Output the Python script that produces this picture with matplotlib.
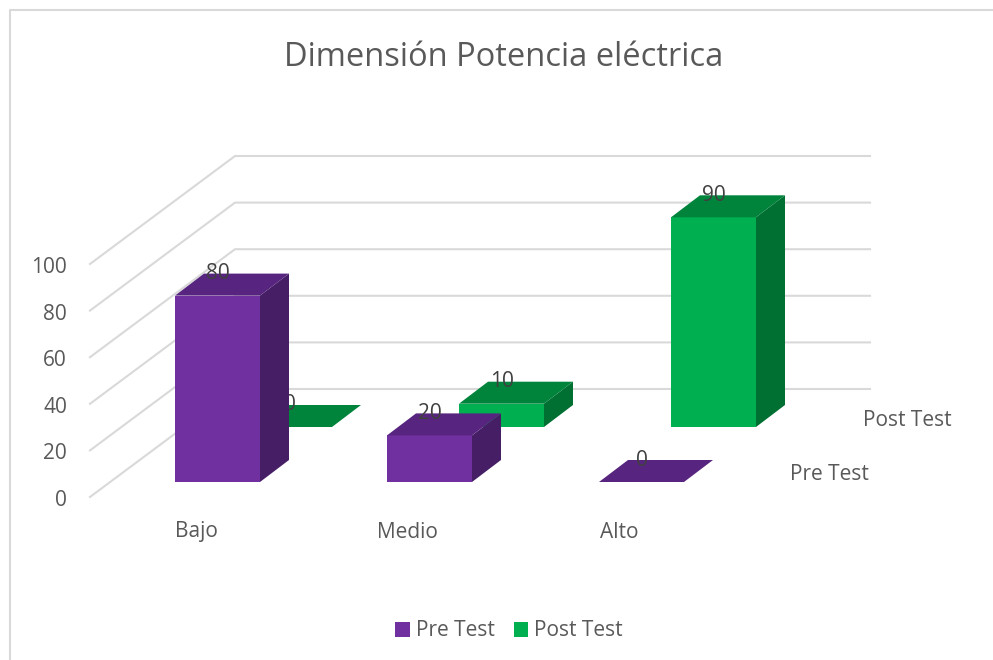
import matplotlib
matplotlib.use('Agg')
import matplotlib.pyplot as plt
from matplotlib.patches import Polygon, Patch

plt.rcParams['font.family'] = ['Open Sans', 'DejaVu Sans']

# Data
categories = ['Bajo', 'Medio', 'Alto']
series_names = ['Pre Test', 'Post Test']
pre_test = [80, 20, 0]
post_test = [0, 10, 90]
value_ticks = [0, 20, 40, 60, 80, 100]

# Colours: front, top, side
pre_colors = ('#7030A0', '#57257F', '#461E66')
post_colors = ('#00B050', '#00843C', '#006F32')
grid_color = '#D9D9D9'
text_color = '#595959'
label_color = '#404040'

# Oblique projection of the Excel style 3D chart, in pixels
x0, y0 = 175, 482
cat_step = 212
bar_w = 85
series_dx, series_dy = 72, -55
depth_dx, depth_dy = 29, -22
px_per_unit = 2.33


def draw_bar(ax, cat, ser, value, colors, z):
    left = x0 + cat * cat_step + ser * series_dx
    right = left + bar_w
    bottom = y0 + ser * series_dy
    top = bottom - value * px_per_unit
    front = [(left, bottom), (right, bottom), (right, top), (left, top)]
    lid = [(left, top), (right, top), (right + depth_dx, top + depth_dy), (left + depth_dx, top + depth_dy)]
    side = [(right, bottom), (right + depth_dx, bottom + depth_dy), (right + depth_dx, top + depth_dy), (right, top)]
    ax.add_patch(Polygon(side, closed=True, fc=colors[2], ec='none', zorder=z))
    ax.add_patch(Polygon(front, closed=True, fc=colors[0], ec='none', zorder=z))
    ax.add_patch(Polygon(lid, closed=True, fc=colors[1], ec='none', zorder=z))
    ax.text(left + bar_w / 2, top - 22, str(value), ha='center', va='center',
            fontsize=15, color=label_color, zorder=z + 0.5)


fig = plt.figure(figsize=(9.93, 6.60), dpi=100)
ax = fig.add_axes([0, 0, 1, 1])
ax.set_xlim(0, 993)
ax.set_ylim(660, 0)
ax.axis('off')

# Chart frame
ax.plot([10, 10, 993], [660, 10, 10], color='#D9D9D9', lw=1.5, zorder=1)

# Walls and value labels
for v in value_ticks:
    y_front = 497 - v * px_per_unit
    y_back = 389 - v * px_per_unit
    ax.plot([90, 235, 870], [y_front, y_back, y_back], color=grid_color, lw=1.5, zorder=2)
    ax.text(67, y_front + 3.5, str(v), ha='right', va='center', fontsize=15, color=text_color)

# Back row first so the front row covers it
for i, v in enumerate(post_test):
    draw_bar(ax, i, 1, v, post_colors, 3 + i * 0.01)
for i, v in enumerate(pre_test):
    draw_bar(ax, i, 0, v, pre_colors, 4 + i * 0.01)

# Category and series axis labels
for name, x in zip(categories, [175, 377, 600]):
    ax.text(x, 532, name, ha='left', va='center', fontsize=15, color=text_color)
ax.text(790, 475, series_names[0], ha='left', va='center', fontsize=15, color=text_color)
ax.text(863, 421, series_names[1], ha='left', va='center', fontsize=15, color=text_color)

ax.text(504, 58, 'Dimensión Potencia eléctrica', ha='center', va='center',
        fontsize=23.5, color=text_color)

handles = [Patch(fc=pre_colors[0], label=series_names[0]), Patch(fc=post_colors[0], label=series_names[1])]
ax.legend(handles=handles, loc='center', bbox_to_anchor=(509 / 993, 1 - 631 / 660), ncol=2, frameon=False,
          fontsize=15, labelcolor=text_color, handlelength=0.7, handleheight=0.7,
          handletextpad=0.3, columnspacing=0.9)

fig.savefig('out.png', dpi=100)
